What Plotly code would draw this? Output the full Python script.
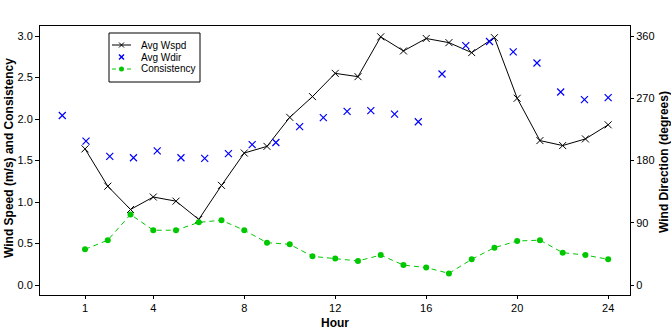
import plotly.graph_objects as go

# ---- data ----
hours = [1, 2, 3, 4, 5, 6, 7, 8, 9, 10, 11, 12, 13, 14, 15, 16, 17, 18, 19, 20, 21, 22, 23, 24]
avg_wspd = [1.64, 1.19, 0.91, 1.06, 1.01, 0.79, 1.20, 1.59, 1.67, 2.02, 2.27, 2.55,
            2.51, 2.99, 2.82, 2.97, 2.92, 2.80, 2.98, 2.25, 1.74, 1.68, 1.76, 1.93]
consistency = [0.43, 0.54, 0.85, 0.66, 0.66, 0.755, 0.78, 0.66, 0.51, 0.49, 0.345, 0.32,
               0.29, 0.36, 0.24, 0.21, 0.14, 0.31, 0.45, 0.53, 0.54, 0.39, 0.36, 0.31]
wdir_hours = [0.0, 1.043, 2.087, 3.130, 4.174, 5.217, 6.261, 7.304, 8.348, 9.391, 10.435, 11.478,
              12.522, 13.565, 14.609, 15.652, 16.696, 17.739, 18.783, 19.826, 20.870, 21.913, 22.957, 24.0]
avg_wdir = [245, 208, 186, 184, 194, 184, 183, 190, 203, 206, 229, 242,
            251, 252, 247, 236, 305, 346, 352, 337, 321, 279, 268, 271]
x_ticks = [1, 4, 8, 12, 16, 20, 24]
y_ticks = [0.0, 0.5, 1.0, 1.5, 2.0, 2.5, 3.0]
y2_ticks = [0, 90, 180, 270, 360]

GREEN = "#00c800"
FONT = "Liberation Sans, Arial, sans-serif"

fig = go.Figure()
fig.add_trace(go.Scatter(x=hours, y=avg_wspd, name="Avg Wspd", mode="lines+markers",
                         line=dict(color="black", width=1),
                         marker=dict(symbol="x-thin", size=7, line=dict(color="black", width=1))))
fig.add_trace(go.Scatter(x=wdir_hours, y=avg_wdir, name="Avg Wdir", mode="markers", yaxis="y2",
                         marker=dict(symbol="x-thin", size=7, line=dict(color="#0000ff", width=1.2))))
fig.add_trace(go.Scatter(x=hours, y=consistency, name="Consistency", mode="lines+markers",
                         line=dict(color=GREEN, width=1, dash="5px,4px"),
                         marker=dict(symbol="circle", size=6, color=GREEN)))

# plot-area geometry in pixels
L, R, T, B = 40, 630, 26, 295
def px(x):
    return (x - L) / (R - L)
def py(y):
    return (B - y) / (B - T)

shapes = []
annotations = []
# custom legend
shapes.append(dict(type="rect", xref="paper", yref="paper", x0=px(109), x1=px(200), y0=py(82), y1=py(33),
                   line=dict(color="black", width=1), fillcolor="white", layer="above"))
rows = [45, 57, 69]
labels = ["Avg Wspd", "Avg Wdir", "Consistency"]
cx = 121.5
# row 1: black line + x
shapes.append(dict(type="line", xref="paper", yref="paper", x0=px(112), x1=px(131), y0=py(rows[0]), y1=py(rows[0]),
                   line=dict(color="black", width=1)))
for (a, b, c, d) in [(-2.5, -2.5, 2.5, 2.5), (-2.5, 2.5, 2.5, -2.5)]:
    shapes.append(dict(type="line", xref="paper", yref="paper", x0=px(cx + a), y0=py(rows[0] + b),
                       x1=px(cx + c), y1=py(rows[0] + d), line=dict(color="black", width=1)))
    shapes.append(dict(type="line", xref="paper", yref="paper", x0=px(cx + a), y0=py(rows[1] + b),
                       x1=px(cx + c), y1=py(rows[1] + d), line=dict(color="#0000ff", width=1.5)))
# row 3: green dashes + dot
for (a, b) in [(112, 116), (127, 131)]:
    shapes.append(dict(type="line", xref="paper", yref="paper", x0=px(a), x1=px(b), y0=py(rows[2]), y1=py(rows[2]),
                       line=dict(color=GREEN, width=1)))
shapes.append(dict(type="circle", xref="paper", yref="paper", x0=px(cx - 2.5), x1=px(cx + 2.5),
                   y0=py(rows[2] + 2.5), y1=py(rows[2] - 2.5), fillcolor=GREEN, line=dict(color=GREEN, width=0)))
for r, t in zip(rows, labels):
    annotations.append(dict(text=t, xref="paper", yref="paper", x=px(139), y=py(r), xanchor="left",
                            yanchor="middle", showarrow=False, font=dict(family=FONT, size=10, color="black")))

# axis titles as annotations
annotations.append(dict(text="<b>Wind Speed (m/s) and Consistency</b>", xref="paper", yref="paper",
                        x=px(9), y=py(158), textangle=-90, showarrow=False, xanchor="center", yanchor="middle",
                        font=dict(family=FONT, size=12, color="black")))
annotations.append(dict(text="<b>Wind Direction (degrees)</b>", xref="paper", yref="paper",
                        x=px(664), y=py(162), textangle=-90, showarrow=False, xanchor="center", yanchor="middle",
                        font=dict(family=FONT, size=12, color="black")))
annotations.append(dict(text="<b>Hour</b>", xref="paper", yref="paper",
                        x=px(335), y=py(323), showarrow=False, xanchor="center", yanchor="middle",
                        font=dict(family=FONT, size=12, color="black")))

fig.update_layout(
    width=671, height=336,
    margin=dict(l=L, r=671 - R, t=T, b=336 - B, pad=0),
    paper_bgcolor="white", plot_bgcolor="white",
    showlegend=False,
    font=dict(family=FONT, size=11, color="black"),
    xaxis=dict(range=[-0.98, 24.96], tickvals=x_ticks, ticks="outside", ticklen=3, tickcolor="black",
               showline=True, linecolor="black", linewidth=1, mirror=True, showgrid=False, zeroline=False),
    yaxis=dict(range=[-0.1205, 3.1205], tickvals=y_ticks, tickformat=".1f", ticks="outside", ticklen=4,
               tickcolor="black", showline=True, linecolor="black", linewidth=1, showgrid=False, zeroline=False),
    yaxis2=dict(range=[-14.46, 374.46], tickvals=y2_ticks, overlaying="y", side="right", ticks="outside",
                ticklen=3, tickcolor="black", showline=True, linecolor="black", linewidth=1,
                showgrid=False, zeroline=False),
    shapes=shapes,
    annotations=annotations,
)

fig.write_html("out.html")
